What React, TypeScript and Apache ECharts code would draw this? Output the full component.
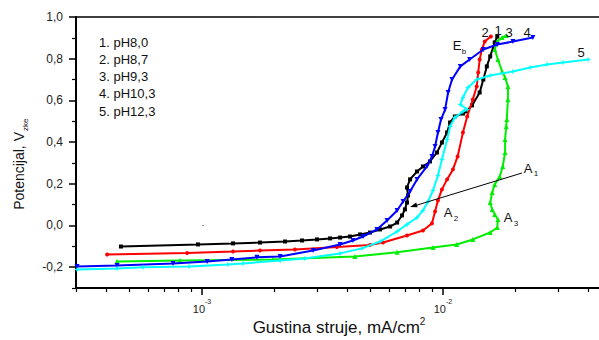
import React, { useEffect, useRef } from "react";
import * as echarts from "echarts";

const FONT = "'Liberation Sans', Arial, Helvetica, sans-serif";

// axis ticks
const xMajorTicks = [0.001, 0.01];
const xMinorTicks = [0.0003, 0.0004, 0.0005, 0.0006, 0.0007, 0.0008, 0.0009, 0.002, 0.003, 0.004, 0.005, 0.006, 0.007, 0.008, 0.009, 0.02, 0.03, 0.04];
const yMajorTicks = [-0.2, 0, 0.2, 0.4, 0.6, 0.8, 1.0];
const yMinorTicks = [-0.3, -0.1, 0.1, 0.3, 0.5, 0.7, 0.9];

const legendLines = ["1. pH8,0", "2. pH8,7", "3. pH9,3", "4. pH10,3", "5. pH12,3"];

// [current density mA/cm2, potential V]
const ph80 = [
  [4.61e-4, -0.101], [9.62e-4, -0.091], [1.345e-3, -0.086], [1.74e-3, -0.082], [2.21e-3, -0.077],
  [2.6e-3, -0.072], [3.0e-3, -0.067], [3.4e-3, -0.062], [3.74e-3, -0.058], [4.11e-3, -0.053],
  [4.53e-3, -0.043], [4.98e-3, -0.034], [5.48e-3, -0.019], [6.03e-3, -0.005], [6.45e-3, 0.014],
  [6.76e-3, 0.048], [6.95e-3, 0.077], [7.09e-3, 0.11], [7.16e-3, 0.144], [7.09e-3, 0.182],
  [7.3e-3, 0.221], [7.8e-3, 0.259], [8.26e-3, 0.283], [8.83e-3, 0.307], [9.44e-3, 0.35],
  [9.9e-3, 0.398], [1.04e-2, 0.446], [1.07e-2, 0.494], [1.12e-2, 0.523], [1.21e-2, 0.537],
  [1.25e-2, 0.547], [1.32e-2, 0.576], [1.42e-2, 0.638], [1.47e-2, 0.7], [1.52e-2, 0.763],
  [1.57e-2, 0.811], [1.64e-2, 0.878], [1.68e-2, 0.906],
];
const ph87 = [
  [4.04e-4, -0.139], [8.67e-4, -0.132], [1.345e-3, -0.125], [1.74e-3, -0.12], [2.43e-3, -0.115],
  [3.63e-3, -0.103], [4.98e-3, -0.094], [5.64e-3, -0.082], [7.09e-3, -0.048], [8.26e-3, -0.024],
  [9.0e-3, 0.01], [9.27e-3, 0.067], [9.53e-3, 0.12], [9.9e-3, 0.173], [1.04e-2, 0.221],
  [1.1e-2, 0.269], [1.15e-2, 0.331], [1.21e-2, 0.446], [1.26e-2, 0.523], [1.33e-2, 0.604],
  [1.38e-2, 0.667], [1.4e-2, 0.734], [1.42e-2, 0.796], [1.45e-2, 0.844], [1.49e-2, 0.882],
  [1.58e-2, 0.906],
];
const ph93 = [
  [4.44e-4, -0.173], [8.1e-4, -0.168], [1.97e-3, -0.163], [4.31e-3, -0.149], [6.45e-3, -0.129],
  [9.09e-3, -0.106], [1.14e-2, -0.091], [1.33e-2, -0.067], [1.57e-2, -0.034], [1.68e-2, -0.01],
  [1.69e-2, 0.029], [1.64e-2, 0.053], [1.6e-2, 0.077], [1.57e-2, 0.11], [1.6e-2, 0.158],
  [1.64e-2, 0.197], [1.72e-2, 0.235], [1.77e-2, 0.283], [1.81e-2, 0.35], [1.81e-2, 0.412],
  [1.83e-2, 0.475], [1.84e-2, 0.508], [1.86e-2, 0.604], [1.86e-2, 0.667], [1.81e-2, 0.71],
  [1.76e-2, 0.739], [1.69e-2, 0.796], [1.64e-2, 0.844], [1.68e-2, 0.882], [1.76e-2, 0.902],
  [1.83e-2, 0.911],
];
const ph103 = [
  [3.03e-4, -0.197], [4.44e-4, -0.192], [7.58e-4, -0.182], [1.05e-3, -0.173], [1.33e-3, -0.163],
  [1.69e-3, -0.153], [2.11e-3, -0.149], [2.89e-3, -0.12], [3.74e-3, -0.091], [4.23e-3, -0.072],
  [4.66e-3, -0.053], [5.32e-3, -0.019], [5.86e-3, 0.024], [6.45e-3, 0.072], [6.83e-3, 0.115],
  [7.3e-3, 0.163], [7.8e-3, 0.221], [8.58e-3, 0.283], [9.0e-3, 0.331], [9.27e-3, 0.379],
  [9.53e-3, 0.446], [9.81e-3, 0.508], [1.02e-2, 0.556], [1.05e-2, 0.638], [1.09e-2, 0.7],
  [1.18e-2, 0.763], [1.29e-2, 0.796], [1.47e-2, 0.844], [1.68e-2, 0.868], [1.95e-2, 0.882],
  [2.36e-2, 0.902],
];
const ph123 = [
  [3.03e-4, -0.211], [4.44e-4, -0.206], [5.69e-4, -0.201], [8.83e-4, -0.197], [1.28e-3, -0.187],
  [1.48e-3, -0.182], [2.11e-3, -0.168], [2.67e-3, -0.158], [3.74e-3, -0.134], [4.61e-3, -0.11],
  [5.48e-3, -0.077], [6.45e-3, -0.029], [7.09e-3, 0.005], [7.8e-3, 0.038], [8.26e-3, 0.072],
  [8.67e-3, 0.115], [9.09e-3, 0.168], [9.53e-3, 0.24], [9.9e-3, 0.317], [1.04e-2, 0.412],
  [1.07e-2, 0.475], [1.12e-2, 0.518], [1.21e-2, 0.547], [1.26e-2, 0.556], [1.18e-2, 0.58],
  [1.21e-2, 0.614], [1.27e-2, 0.662], [1.38e-2, 0.7], [1.57e-2, 0.719], [1.95e-2, 0.739],
  [2.3e-2, 0.758], [2.7e-2, 0.772], [3.15e-2, 0.782], [4.0e-2, 0.796],
];

const STAR = "path://M0,-5L1.3,-1.3L5,0L1.3,1.3L0,5L-1.3,1.3L-5,0L-1.3,-1.3Z";

const curves = [
  { name: legendLines[0], data: ph80, color: "#000000", symbol: "rect", size: 4, rotate: 0 },
  { name: legendLines[1], data: ph87, color: "#ff0000", symbol: "circle", size: 4, rotate: 0 },
  { name: legendLines[2], data: ph93, color: "#00ee00", symbol: "triangle", size: 5, rotate: 0 },
  { name: legendLines[3], data: ph103, color: "#0000ff", symbol: "triangle", size: 5, rotate: 180 },
  { name: legendLines[4], data: ph123, color: "#00ffff", symbol: STAR, size: 6, rotate: 0 },
];

function txt(x: number, y: number, text: string, size: number, align = "left") {
  return {
    type: "text",
    x,
    y,
    z: 100,
    style: {
      text,
      fill: "#111",
      font: `${size}px ${FONT}`,
      align,
      verticalAlign: "middle",
    },
  };
}

export default function App() {
  const ref = useRef<HTMLDivElement>(null);
  useEffect(() => {
    if (!ref.current) return;
    const chart = echarts.init(ref.current, undefined, { renderer: "svg" });
    const xMin = 3e-4;
    const xMax = 0.0444;
    const yMin = -0.3;
    const yMax = 1.0;
    const labelColor = "#222";
    const gridRect = { left: 76, top: 17, right: 0, bottom: 52, containLabel: false };
    const option: any = {
      animation: false,
      backgroundColor: "#ffffff",
      textStyle: { fontFamily: FONT },
      grid: [gridRect, { ...gridRect }],
      xAxis: [
        {
          type: "log",
          gridIndex: 0,
          logBase: 10,
          min: xMin,
          max: xMax,
          position: "bottom",
          axisLine: { show: true, onZero: false, lineStyle: { color: "#000", width: 2 } },
          axisTick: { show: true, inside: false, length: 7, customValues: xMajorTicks, lineStyle: { color: "#000", width: 1.5 } },
          axisLabel: {
            show: true,
            customValues: xMajorTicks,
            margin: 10,
            color: labelColor,
            formatter: (v: number) => `{b|10}{s|${Math.round(Math.log10(v))}}`,
            rich: {
              b: { fontSize: 11, fontFamily: FONT, color: labelColor, lineHeight: 16, verticalAlign: "bottom" },
              s: { fontSize: 7, fontFamily: FONT, color: labelColor, verticalAlign: "top" },
            },
          },
          splitLine: { show: false },
          minorTick: { show: false },
        },
        {
          type: "log",
          gridIndex: 0,
          logBase: 10,
          min: xMin,
          max: xMax,
          position: "top",
          axisLine: { show: true, onZero: false, lineStyle: { color: "#000", width: 1.5 } },
          axisTick: { show: false },
          axisLabel: { show: false },
          splitLine: { show: false },
        },
        {
          type: "log",
          gridIndex: 1,
          logBase: 10,
          min: xMin,
          max: xMax,
          position: "bottom",
          axisLine: { show: false, onZero: false },
          axisTick: { show: true, inside: false, length: 4, customValues: xMinorTicks, lineStyle: { color: "#000", width: 1.2 } },
          axisLabel: { show: false },
          splitLine: { show: false },
        },
      ],
      yAxis: [
        {
          type: "value",
          gridIndex: 0,
          min: yMin,
          max: yMax,
          position: "left",
          axisLine: { show: true, onZero: false, lineStyle: { color: "#000", width: 2 } },
          axisTick: { show: true, inside: false, length: 7, customValues: yMajorTicks, lineStyle: { color: "#000", width: 1.5 } },
          axisLabel: {
            show: true,
            customValues: yMajorTicks,
            margin: 13,
            color: labelColor,
            fontSize: 12,
            fontFamily: FONT,
            formatter: (v: number) => v.toFixed(1).replace(".", ","),
          },
          splitLine: { show: false },
        },
        {
          type: "value",
          gridIndex: 1,
          min: yMin,
          max: yMax,
          position: "left",
          axisLine: { show: false, onZero: false },
          axisTick: { show: true, inside: false, length: 4, customValues: yMinorTicks, lineStyle: { color: "#000", width: 1.2 } },
          axisLabel: { show: false },
          splitLine: { show: false },
        },
      ],
      series: curves.map((c, i) => ({
        type: "line",
        name: c.name,
        data: c.data,
        xAxisIndex: 0,
        yAxisIndex: 0,
        symbol: c.symbol,
        symbolSize: c.size,
        symbolRotate: c.rotate,
        showSymbol: true,
        lineStyle: { color: c.color, width: 2 },
        itemStyle: { color: c.color },
        z: 2 + i,
        silent: true,
      })),
      graphic: [
        // legend-like text block
        ...legendLines.map((t, i) => txt(99, 42 + i * 17.3, t, 13)),
        // curve numbers
        txt(485, 32, "2", 13, "center"),
        txt(498, 30, "1", 13, "center"),
        txt(509, 32, "3", 13, "center"),
        txt(527, 32, "4", 13, "center"),
        txt(581, 52, "5", 13, "center"),
        // E_b
        txt(457, 45, "E", 13, "center"),
        txt(464, 51, "b", 8, "center"),
        // A labels
        txt(528, 168, "A", 13, "center"),
        txt(536, 173, "1", 8, "center"),
        txt(448, 212, "A", 13, "center"),
        txt(456, 218, "2", 8, "center"),
        txt(508, 217, "A", 13, "center"),
        txt(516, 223, "3", 8, "center"),
        // arrow from A1
        {
          type: "line",
          z: 100,
          shape: { x1: 522, y1: 173, x2: 414, y2: 206 },
          style: { stroke: "#000", lineWidth: 1 },
        },
        {
          type: "polygon",
          z: 100,
          shape: { points: [[410, 207], [417.6, 207.2], [416.2, 202.4]] },
          style: { fill: "#000" },
        },
        // stray mark
        { type: "rect", z: 100, shape: { x: 202, y: 225, width: 2, height: 1 }, style: { fill: "#888" } },
        // y axis name
        {
          type: "group",
          x: 19,
          y: 132,
          rotation: Math.PI / 2,
          children: [
            { type: "text", x: 0, y: 0, style: { text: "Potencijal, V", font: `14px ${FONT}`, fill: "#111", align: "right", verticalAlign: "middle" } },
            { type: "text", x: 1, y: 6, style: { text: "zke", font: `8px ${FONT}`, fill: "#111", align: "left", verticalAlign: "middle" } },
          ],
        },
        // x axis name
        {
          type: "text",
          x: 339,
          y: 326,
          z: 100,
          style: {
            text: "{a|Gustina struje, mA/cm}{s|2}",
            align: "center",
            verticalAlign: "middle",
            rich: {
              a: { font: `17px ${FONT}`, fill: "#111", lineHeight: 20, verticalAlign: "bottom" },
              s: { font: `10px ${FONT}`, fill: "#111", verticalAlign: "top" },
            },
          },
        },
      ],
    };
    chart.setOption(option);
    return () => chart.dispose();
  }, []);
  return <div ref={ref} style={{ position: "fixed", left: 0, top: 0, width: 599, height: 340, background: "#fff" }} />;
}
